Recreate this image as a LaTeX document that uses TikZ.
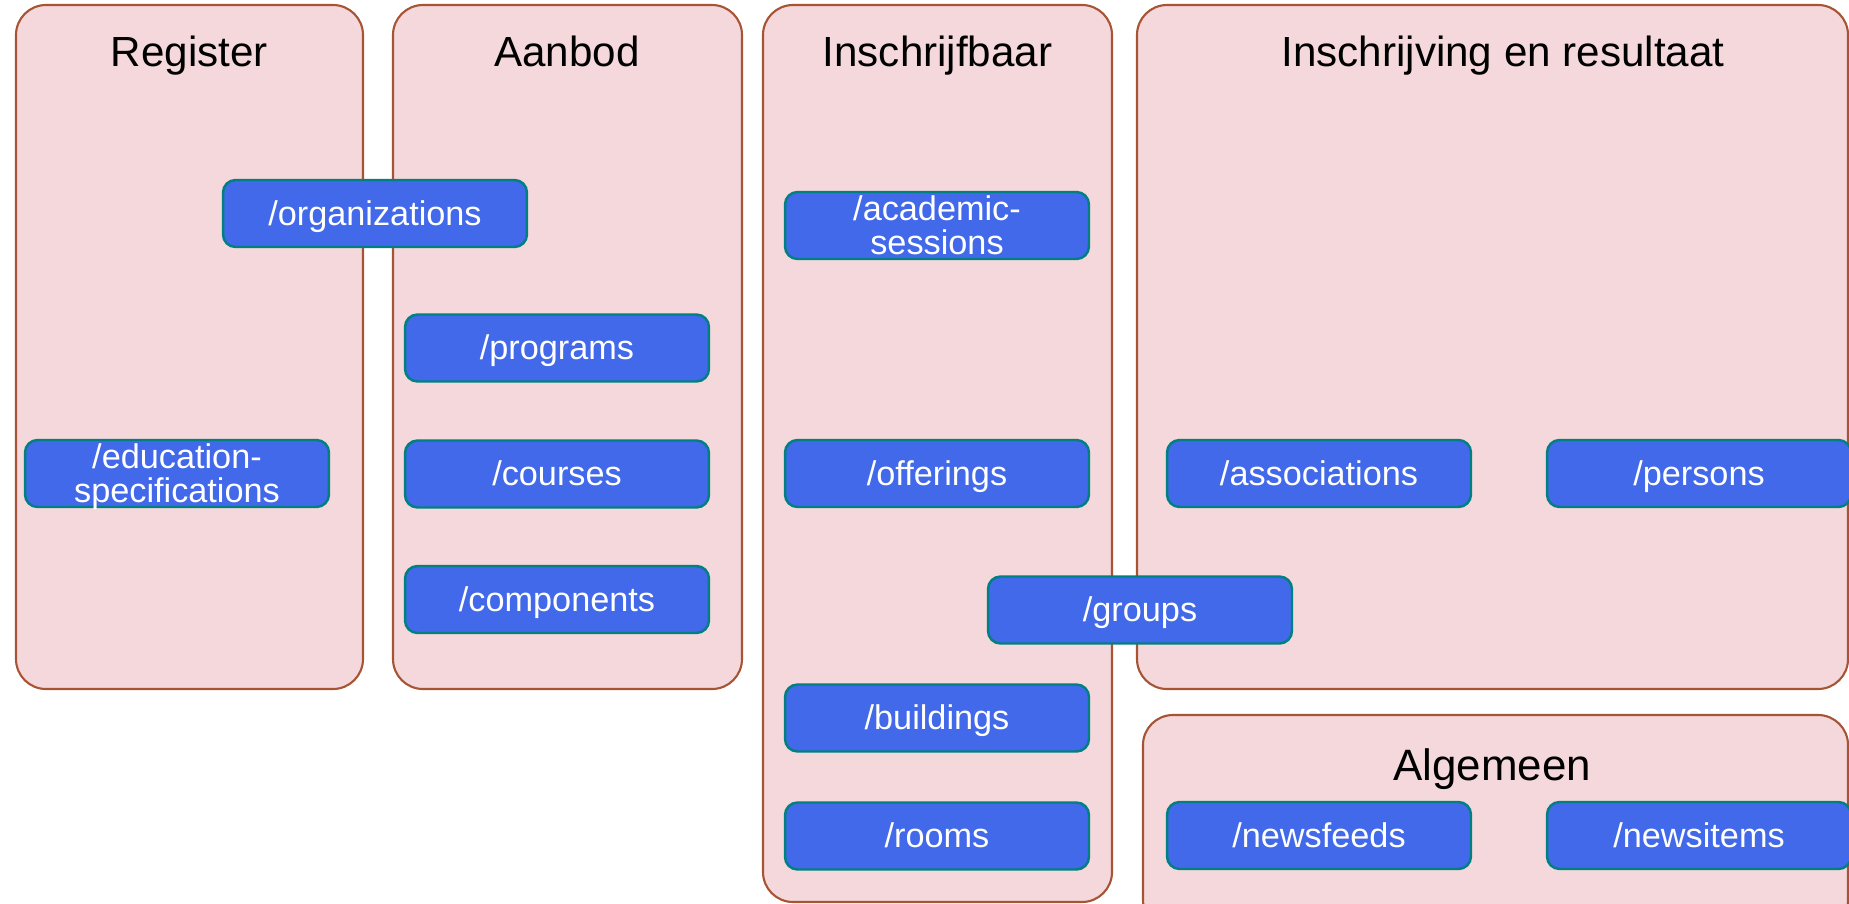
\documentclass[tikz,border=0pt]{standalone}
\usepackage{fontspec}
\setmainfont{Liberation Sans}
\definecolor{panelfill}{RGB}{244,216,220}
\definecolor{paneldraw}{RGB}{166,84,52}
\definecolor{epfill}{RGB}{65,105,233}
\definecolor{epdraw}{RGB}{0,128,128}
\tikzset{
  panel/.style={fill=panelfill,draw=paneldraw,line width=1.2pt,rounded corners=0.6cm},
  paneltitle/.style={anchor=base,inner sep=0pt,font=\fontsize{24}{28}\selectfont,text=black},
  endpoint/.style={fill=epfill,draw=epdraw,line width=1.4pt,rounded corners=0.25cm,
    minimum width=6.08cm,minimum height=1.34cm,inner sep=0pt,text=white,
    text height=13.5pt,text depth=0pt,
    font=\fontsize{19.5}{19}\selectfont},
  eptext/.style={anchor=base,inner sep=0pt,text=white,font=\fontsize{19.5}{19}\selectfont}
}
\begin{document}
\begin{tikzpicture}[x=0.02cm,y=-0.02cm]
\clip (0,0) rectangle (1849,903);
\fill[white] (0,0) rectangle (1849,903);
% panels
\draw[panel] (16,5) rectangle (363,689);
\draw[panel] (393,5) rectangle (742,689);
\draw[panel] (763,5) rectangle (1112,902);
\draw[panel] (1137,5) rectangle (1848,689);
\draw[panel] (1143,715) rectangle (1848,930);
% titles
\node[paneltitle] (tregister) at (189.5,66) {Register};
\node[paneltitle] (taanbod) at (567,66) {Aanbod};
\node[paneltitle] (tinschrijfbaar) at (937.5,66) {Inschrijfbaar};
\node[paneltitle] (tinschrijving) at (1503,66) {Inschrijving en resultaat};
\node[paneltitle,font=\fontsize{25}{30}\selectfont] (talgemeen) at (1492,780) {Algemeen};
% endpoints
\node[endpoint] (org) at (375,213.5) {/organizations};
\node[endpoint] (edu) at (177,473.5) {};
\node[eptext] (edutop) at (177,468.5) {/education-};
\node[eptext] (edubot) at (177,502.5) {specifications};
\node[endpoint] (programs) at (557,348) {/programs};
\node[endpoint] (courses) at (557,474) {/courses};
\node[endpoint] (components) at (557,599.5) {/components};
\node[endpoint] (academic) at (937,225.5) {};
\node[eptext] (acadtop) at (937,220) {/academic-};
\node[eptext] (acadbot) at (937,254) {sessions};
\node[endpoint] (offerings) at (937,473.5) {/offerings};
\node[endpoint] (groups) at (1140,610) {/groups};
\node[endpoint] (buildings) at (937,718) {/buildings};
\node[endpoint] (rooms) at (937,836) {/rooms};
\node[endpoint] (associations) at (1319,473.5) {/associations};
\node[endpoint] (persons) at (1699,473.5) {/persons};
\node[endpoint] (newsfeeds) at (1319,835.5) {/newsfeeds};
\node[endpoint] (newsitems) at (1699,835.5) {/newsitems};
\end{tikzpicture}
\end{document}
